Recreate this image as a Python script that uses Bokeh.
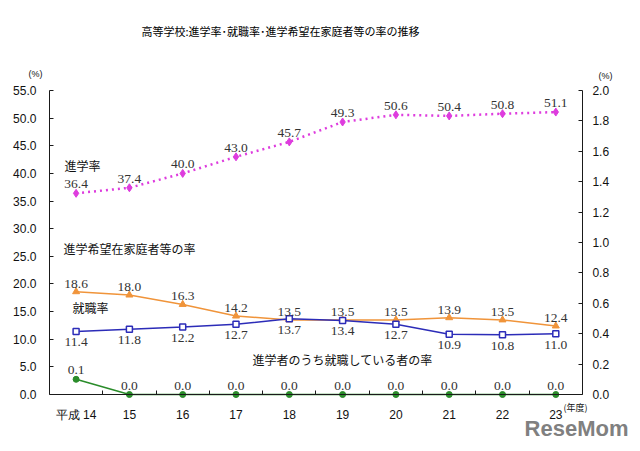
from bokeh.plotting import figure
from bokeh.models import (Range1d, LinearAxis, FixedTicker, PrintfTickFormatter,
                          ColumnDataSource, LabelSet, Label)
from bokeh.embed import file_html
from bokeh.resources import INLINE

# ---- data ----
years = ["平成 14", "15", "16", "17", "18", "19", "20", "21", "22", "23"]
shingaku = [36.4, 37.4, 40.0, 43.0, 45.7, 49.3, 50.6, 50.4, 50.8, 51.1]          # 進学率
shushoku = [18.6, 18.0, 16.3, 14.2, 13.5, 13.5, 13.5, 13.9, 13.5, 12.4]          # 就職率
kibou = [11.4, 11.8, 12.2, 12.7, 13.7, 13.4, 12.7, 10.9, 10.8, 11.0]             # 進学希望在家庭者等の率
shingaku_shushoku = [0.1, 0.0, 0.0, 0.0, 0.0, 0.0, 0.0, 0.0, 0.0, 0.0]           # 進学者のうち就職している者の率 (right axis)
left_ticks = [0, 5, 10, 15, 20, 25, 30, 35, 40, 45, 50, 55]
right_ticks = [0.0, 0.2, 0.4, 0.6, 0.8, 1.0, 1.2, 1.4, 1.6, 1.8, 2.0]
LEFT_MAX = 55.0
RIGHT_MAX = 2.0

xs = list(range(len(years)))

def fmt(v):
    return ["%.1f" % a for a in v]

src_a = ColumnDataSource(dict(x=xs, y=shingaku, t=fmt(shingaku)))
src_b = ColumnDataSource(dict(x=xs, y=shushoku, t=fmt(shushoku)))
src_c = ColumnDataSource(dict(x=xs, y=kibou, t=fmt(kibou)))
src_d = ColumnDataSource(dict(x=xs, y=shingaku_shushoku, t=fmt(shingaku_shushoku)))

# ---- layout (pixels): the frame covers the whole canvas, axes sit at fixed locations ----
W, H = 636, 448
AX_LEFT_PX, AX_RIGHT_PX = 48.95, 581.95      # plot-area left/right edges
AX_TOP_PX, AX_BOTTOM_PX = 90.0, 394.0        # plot-area top/bottom edges
n = len(years)
ppx = (AX_RIGHT_PX - AX_LEFT_PX) / n          # pixels per category
ppy = (AX_BOTTOM_PX - AX_TOP_PX) / LEFT_MAX   # pixels per left-axis unit

def dx(px):
    return -0.5 + (px - AX_LEFT_PX) / ppx

def dy(py):
    return (AX_BOTTOM_PX - py) / ppy

x0, x1 = dx(0), dx(W)
y0, y1 = dy(H), dy(0)
rs = RIGHT_MAX / LEFT_MAX

p = figure(width=W, height=H, output_backend="svg", toolbar_location=None,
           x_range=Range1d(x0, x1), y_range=Range1d(y0, y1),
           min_border=0, min_border_left=0, min_border_right=0,
           min_border_top=0, min_border_bottom=0,
           x_axis_type=None, y_axis_type=None)
p.extra_y_ranges = {"right": Range1d(y0 * rs, y1 * rs)}
p.grid.visible = False
p.outline_line_color = None
p.background_fill_color = "white"
p.border_fill_color = "white"

TICK_FONT = "Liberation Sans"
AX_COLOR = "#1a1a1a"

xaxis = LinearAxis(ticker=FixedTicker(ticks=xs, minor_ticks=[i + 0.5 for i in range(n - 1)]),
                   fixed_location=0, bounds=(-0.5, n - 0.5))
xaxis.major_label_overrides = {i: years[i] for i in xs}
xaxis.major_tick_line_color = None
xaxis.minor_tick_in = 4
xaxis.minor_tick_out = 0
xaxis.minor_tick_line_color = AX_COLOR
xaxis.axis_line_color = AX_COLOR
xaxis.major_label_standoff = 7
xaxis.major_label_text_font = TICK_FONT
xaxis.major_label_text_font_size = "12px"
xaxis.major_label_text_color = "#111111"
p.add_layout(xaxis, "below")

laxis = LinearAxis(ticker=FixedTicker(ticks=left_ticks, minor_ticks=[]),
                   formatter=PrintfTickFormatter(format="%.1f"),
                   fixed_location=-0.5, bounds=(0, LEFT_MAX))
laxis.major_tick_in = 4
laxis.major_tick_out = 0
laxis.axis_line_color = AX_COLOR
laxis.major_tick_line_color = AX_COLOR
laxis.major_label_standoff = 13
laxis.major_label_text_font = TICK_FONT
laxis.major_label_text_font_size = "12px"
laxis.major_label_text_color = "#111111"
p.add_layout(laxis, "left")

raxis = LinearAxis(y_range_name="right", ticker=FixedTicker(ticks=right_ticks, minor_ticks=[]),
                   formatter=PrintfTickFormatter(format="%.1f"),
                   fixed_location=n - 0.5, bounds=(0, RIGHT_MAX))
raxis.major_tick_in = 4
raxis.major_tick_out = 0
raxis.axis_line_color = AX_COLOR
raxis.major_tick_line_color = AX_COLOR
raxis.major_label_standoff = 10
raxis.major_label_text_font = TICK_FONT
raxis.major_label_text_font_size = "12px"
raxis.major_label_text_color = "#111111"
p.add_layout(raxis, "right")

MAG = "#DE3CDE"
ORA = "#F0943A"
BLU = "#2C2CB8"
GRN = "#2A8C2A"

# 進学率
p.line("x", "y", source=src_a, line_color=MAG, line_width=2.5, line_dash="2 4")
p.scatter("x", "y", source=src_a, marker="diamond", size=8, fill_color=MAG, line_color=MAG)
# 就職率
p.line("x", "y", source=src_b, line_color=ORA, line_width=1.5)
p.scatter("x", "y", source=src_b, marker="triangle", size=7, fill_color=ORA, line_color=ORA)
# 進学希望在家庭者等の率
p.line("x", "y", source=src_c, line_color=BLU, line_width=1.5)
p.scatter("x", "y", source=src_c, marker="square", size=6, fill_color="white", line_color=BLU, line_width=1.5)
# 進学者のうち就職している者の率
p.line("x", "y", source=src_d, line_color=GRN, line_width=1.5, y_range_name="right")
p.scatter("x", "y", source=src_d, marker="circle", size=6, fill_color=GRN, line_color=GRN, y_range_name="right")

LBL_FONT = "Liberation Serif"
LBL_SIZE = "13.5px"
LBL_COLOR = "#333333"
for src, yoff, base, rng in [(src_a, 5, "bottom", "default"), (src_b, 4, "bottom", "default"),
                             (src_c, -7, "top", "default"), (src_d, 5, "bottom", "right")]:
    ls = LabelSet(x="x", y="y", text="t", source=src, x_offset=0, y_offset=yoff,
                  text_align="center", text_baseline=base, text_font=LBL_FONT,
                  text_font_size=LBL_SIZE, text_color=LBL_COLOR, y_range_name=rng)
    p.add_layout(ls)

JP = "Noto Sans CJK JP"

def lab(px, py, text, size="12px", align="left", color="#111111", font=JP, style="normal"):
    p.add_layout(Label(x=dx(px), y=dy(py), text=text, text_font=font, text_font_size=size,
                       text_align=align, text_baseline="middle", text_color=color,
                       text_font_style=style))

lab(280, 30, "高等学校:進学率･就職率･進学希望在家庭者等の率の推移", size="11px", align="center", color="#000000")
lab(35, 73, "(%)", size="9px", align="center", font="Liberation Sans")
lab(605, 75, "(%)", size="9px", align="center", font="Liberation Sans")
lab(575, 407, "(年度)", size="9px", align="center")
lab(64, 165, "進学率")
lab(63, 248, "進学希望在家庭者等の率")
lab(72, 307, "就職率")
lab(252, 359, "進学者のうち就職している者の率")
lab(628, 428, "ReseMom", size="22px", align="right", color="#808080", font="Liberation Sans", style="bold")

open("out.html", "w").write(file_html(p, INLINE))
